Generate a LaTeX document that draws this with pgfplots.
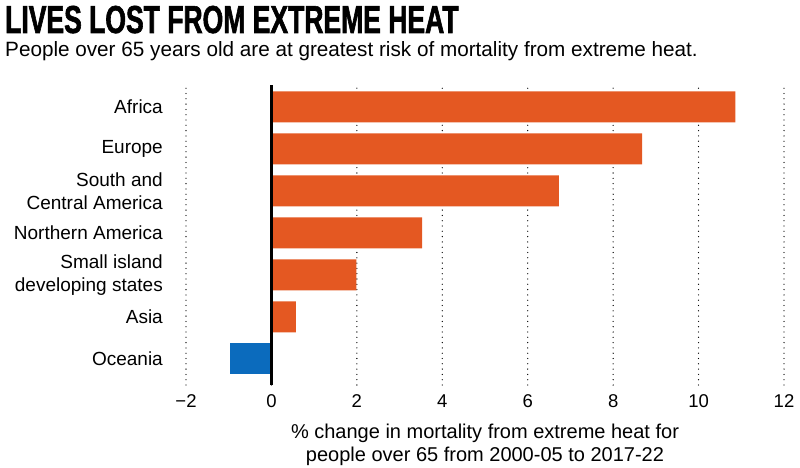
\documentclass[border=0pt]{standalone}
\usepackage{fontspec}
\setmainfont{Liberation Sans}
\newfontfamily\titlefont{Liberation Sans}[FakeStretch=0.68, BoldFeatures={FakeBold=1.5}]
\usepackage{pgfplots}
\pgfplotsset{compat=1.18}
\definecolor{heat}{RGB}{228,88,34}
\definecolor{cool}{RGB}{11,107,189}
\begin{document}
\begin{tikzpicture}[x=1pt,y=1pt]
\path[use as bounding box] (0,0) rectangle (800,-468);
\node[anchor=base west, inner sep=0, font=\titlefont\bfseries\fontsize{39}{40}\selectfont] at (5,-33) {LIVES LOST FROM EXTREME HEAT};
\node[anchor=base west, inner sep=0, font=\fontsize{20.7}{23}\selectfont] at (5,-57) {People over 65 years old are at greatest risk of mortality from extreme heat.};
\begin{axis}[
  at={(186pt,-385pt)}, anchor=south west,
  scale only axis, width=598pt, height=300pt,
  xmin=-2, xmax=12, ymin=-0.62, ymax=6.52,
  axis line style={draw=none},
  tick style={draw=none},
  xtick={-2,0,2,4,6,8,10,12},
  xticklabels={−2,0,2,4,6,8,10,12},
  xticklabel style={inner sep=0pt, yshift=-9.5pt, font=\fontsize{18.5}{20}\selectfont},
  ytick={0,1,2,3,4,5,6},
  yticklabels={Oceania,Asia,{Small island\\developing states},Northern America,{South and\\Central America},Europe,Africa},
  yticklabel style={align=right, inner sep=0pt, xshift=-23pt, font=\fontsize{19}{23}\selectfont},
  xmajorgrids,
  grid style={black, line width=1.3pt, dash pattern=on 0pt off 5.3pt, line cap=round},
  xlabel={\% change in mortality from extreme heat for\\people over 65 from 2000-05 to 2017-22},
  xlabel style={align=center, font=\fontsize{20}{23}\selectfont, at={(axis description cs:0.5,0)}, anchor=north, inner sep=0pt, yshift=-39pt},
]
\addplot[xbar, bar width=31pt, bar shift=0pt, fill=heat, draw=none]
  coordinates {(10.86,6) (8.68,5) (6.73,4) (3.53,3) (1.99,2) (0.57,1)};
\addplot[xbar, bar width=31pt, bar shift=0pt, fill=cool, draw=none]
  coordinates {(-0.97,0)};
\addplot[black, line width=3pt] coordinates {(0,-0.62) (0,6.52)};
\end{axis}
\end{tikzpicture}
\end{document}
